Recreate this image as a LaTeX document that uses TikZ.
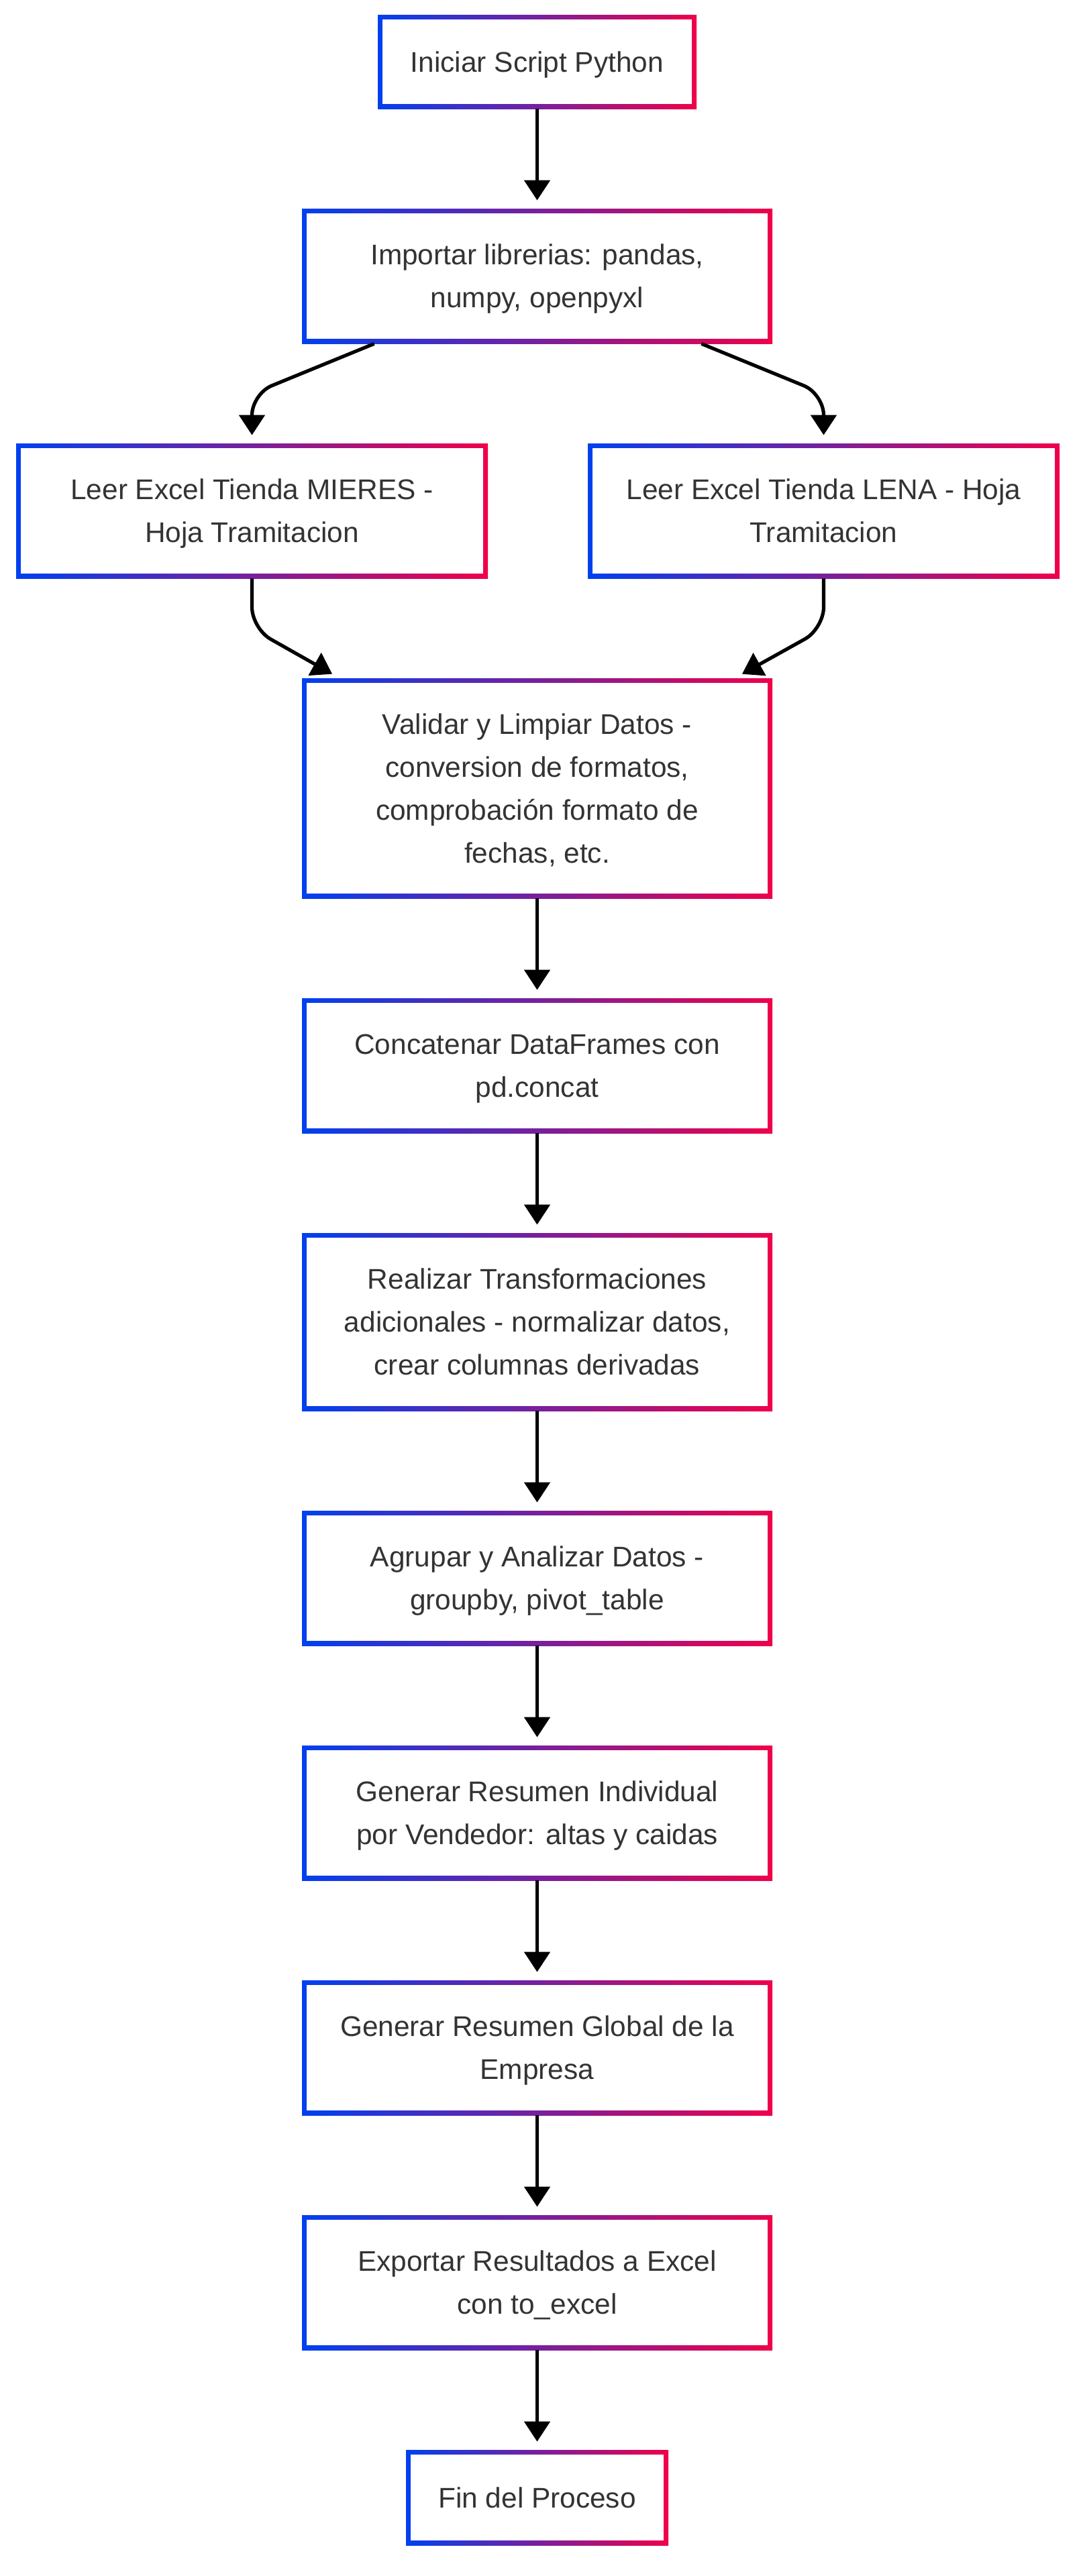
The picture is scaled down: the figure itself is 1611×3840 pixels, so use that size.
\documentclass[tikz,border=0pt]{standalone}
\usepackage{fontspec}
\setmainfont{Liberation Sans}
\usetikzlibrary{arrows.meta,backgrounds}
\definecolor{cA}{HTML}{0040F0}
\definecolor{cB}{HTML}{F0004A}
\definecolor{txt}{HTML}{333333}
\newcommand{\tx}[1]{\begin{tabular}{@{}c@{}}\rule{0pt}{25pt}#1\end{tabular}}
\tikzset{
  gbox/.style={rectangle, inner sep=0pt, left color=cA, right color=cB,
    align=center, text=txt, font=\fontsize{21.2}{32}\selectfont,
    path picture={\fill[white] ([shift={(3.3pt,3.3pt)}]path picture bounding box.south west)
      rectangle ([shift={(-3.3pt,-3.3pt)}]path picture bounding box.north east);}},
  flow/.style={draw=black, line width=2.6pt, -{Triangle[length=15pt,width=19pt]}, shorten >=6pt},
  curvy/.style={rounded corners=16pt}
}
\begin{document}
\begin{tikzpicture}[x=0.5pt,y=-0.5pt]
\fill[white] (0,0) rectangle (1611,3840);
\useasboundingbox (0,0) rectangle (1611,3840);

\node[gbox, minimum width=237.5pt, minimum height=70pt] (n1) at (800.5,92) {\tx{Iniciar Script Python}};
\node[gbox, minimum width=350.5pt, minimum height=100.5pt] (n2) at (800.5,411.5) {\tx{Importar librerias: pandas,\\numpy, openpyxl}};
\node[gbox, minimum width=351.5pt, minimum height=100.5pt] (n3) at (375.5,761.5) {\tx{Leer Excel Tienda MIERES -\\Hoja Tramitacion}};
\node[gbox, minimum width=351.5pt, minimum height=100.5pt] (n4) at (1227.5,761.5) {\tx{Leer Excel Tienda LENA - Hoja\\Tramitacion}};
\node[gbox, minimum width=350.5pt, minimum height=164pt] (n5) at (800.5,1175) {\tx{Validar y Limpiar Datos -\\conversion de formatos,\\comprobación formato de\\fechas, etc.}};
\node[gbox, minimum width=350.5pt, minimum height=100.5pt] (n6) at (800.5,1588.5) {\tx{Concatenar DataFrames con\\pd.concat}};
\node[gbox, minimum width=350.5pt, minimum height=132.5pt] (n7) at (800.5,1970.5) {\tx{Realizar Transformaciones\\adicionales - normalizar datos,\\crear columnas derivadas}};
\node[gbox, minimum width=350.5pt, minimum height=100.5pt] (n8) at (800.5,2352.5) {\tx{Agrupar y Analizar Datos -\\groupby, pivot\_table}};
\node[gbox, minimum width=350.5pt, minimum height=100.5pt] (n9) at (800.5,2702.5) {\tx{Generar Resumen Individual\\por Vendedor: altas y caidas}};
\node[gbox, minimum width=350.5pt, minimum height=100.5pt] (n10) at (800.5,3052.5) {\tx{Generar Resumen Global de la\\Empresa}};
\node[gbox, minimum width=350.5pt, minimum height=100.5pt] (n11) at (800.5,3402.5) {\tx{Exportar Resultados a Excel\\con to\_excel}};
\node[gbox, minimum width=195.5pt, minimum height=71pt] (n12) at (800.5,3723) {\tx{Fin del Proceso}};

\begin{scope}[on background layer]
\foreach \n in {n1,n2,n3,n4,n5,n6,n7,n8,n9,n10,n11,n12}{
  \fill[black, opacity=0.05] ([shift={(0.5pt,-4.5pt)}]\n.south west) rectangle ([shift={(4.5pt,-1pt)}]\n.north east);
  \fill[black, opacity=0.06] ([shift={(1pt,-3pt)}]\n.south west) rectangle ([shift={(3pt,-1.5pt)}]\n.north east);
}
\end{scope}

\draw[flow] (n1.south) -- (n2.north);
\draw[flow, curvy] ([xshift=54pt]n2.south west) -- (375.5,587) -- (n3.north);
\draw[flow, curvy] ([xshift=-53pt]n2.south east) -- (1227.5,587) -- (n4.north);
\draw[flow, curvy] (n3.south) -- (375.5,937) -- ([xshift=28pt]n5.north west);
\draw[flow, curvy] (n4.south) -- (1227.5,937) -- ([xshift=-28pt]n5.north east);
\draw[flow] (n5.south) -- (n6.north);
\draw[flow] (n6.south) -- (n7.north);
\draw[flow] (n7.south) -- (n8.north);
\draw[flow] (n8.south) -- (n9.north);
\draw[flow] (n9.south) -- (n10.north);
\draw[flow] (n10.south) -- (n11.north);
\draw[flow] (n11.south) -- (n12.north);
\end{tikzpicture}
\end{document}
